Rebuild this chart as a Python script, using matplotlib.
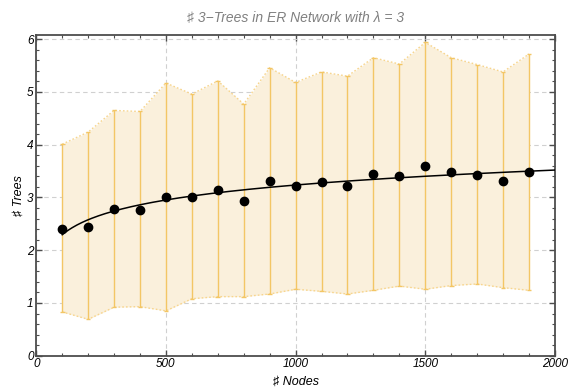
import numpy as np
import matplotlib
matplotlib.use("Agg")
import matplotlib.pyplot as plt
from matplotlib.ticker import MultipleLocator

plt.rcParams['font.family'] = ['Liberation Sans', 'DejaVu Sans']

# Network sizes and measured 3-tree counts
nodes = [100, 200, 300, 400, 500, 600, 700, 800, 900, 1000,
         1100, 1200, 1300, 1400, 1500, 1600, 1700, 1800, 1900]
mean_trees = [2.40, 2.44, 2.79, 2.77, 3.00, 3.01, 3.15, 2.93, 3.31, 3.22,
              3.29, 3.22, 3.44, 3.41, 3.59, 3.48, 3.43, 3.32, 3.48]
upper = [4.01, 4.24, 4.65, 4.63, 5.17, 4.96, 5.21, 4.77, 5.46, 5.18,
         5.38, 5.30, 5.65, 5.53, 5.94, 5.65, 5.52, 5.38, 5.72]
lower = [0.83, 0.69, 0.92, 0.93, 0.85, 1.08, 1.12, 1.12, 1.17, 1.26,
         1.22, 1.17, 1.24, 1.32, 1.26, 1.33, 1.36, 1.29, 1.24]

x = np.array(nodes, dtype=float)
y = np.array(mean_trees)
lo = np.array(lower)
hi = np.array(upper)

fig = plt.figure(figsize=(5.74, 3.92), dpi=100)
ax = fig.add_axes([0.0632, 0.0926, 0.9036, 0.8181])

band_fill = '#FAF0DC'
bar_col = '#F3C665'
edge_col = '#F7D58E'

ax.fill_between(x, lo, hi, color=band_fill, zorder=1, linewidth=0)
ax.plot(x, hi, linestyle=(0, (1.2, 1.5)), color=edge_col, lw=1.0, zorder=2)
ax.plot(x, lo, linestyle=(0, (1.2, 1.5)), color=edge_col, lw=1.0, zorder=2)
ax.vlines(x, lo, hi, color=bar_col, lw=1.0, zorder=3)
ax.hlines(np.concatenate([lo, hi]), np.concatenate([x, x]) - 9,
          np.concatenate([x, x]) + 9, color=bar_col, lw=1.0, zorder=3)

# Logarithmic least-squares fit
b, a = np.polyfit(np.log(x), y, 1)
xf = np.linspace(100, 2000, 300)
ax.plot(xf, a + b * np.log(xf), color='black', lw=1.1, zorder=4)

ax.plot(x, y, 'o', color='black', ms=6, zorder=5)

ax.set_xlim(0, 2000)
ax.set_ylim(0, 6.08)
ax.xaxis.set_major_locator(MultipleLocator(500))
ax.xaxis.set_minor_locator(MultipleLocator(100))
ax.yaxis.set_major_locator(MultipleLocator(1))
ax.yaxis.set_minor_locator(MultipleLocator(0.2))

ax.grid(True, which='major', color='#D0D0D0', linestyle=(0, (4, 3)), lw=0.8, zorder=0)
ax.set_axisbelow(True)

frame_col = '#4D4D4D'
for s in ax.spines.values():
    s.set_color(frame_col)
    s.set_linewidth(1.3)

ax.tick_params(which='both', direction='in', top=True, right=True,
               color=frame_col, labelsize=8.5, pad=2)
ax.tick_params(which='major', length=4, width=1.0)
ax.tick_params(which='minor', length=2.5, width=0.8)
for lab in ax.get_xticklabels() + ax.get_yticklabels():
    lab.set_fontstyle('italic')

ax.set_xlabel('\u266f Nodes', fontstyle='italic', fontsize=9, labelpad=4)
ax.set_ylabel('\u266f Trees', fontstyle='italic', fontsize=9, labelpad=1.5)
fig.text(0.515, 0.955, '\u266f 3\u2212Trees in ER Network with \u03bb = 3',
         ha='center', va='center', fontstyle='italic', fontsize=10, color='#808080')

fig.savefig('out.png', dpi=100)
